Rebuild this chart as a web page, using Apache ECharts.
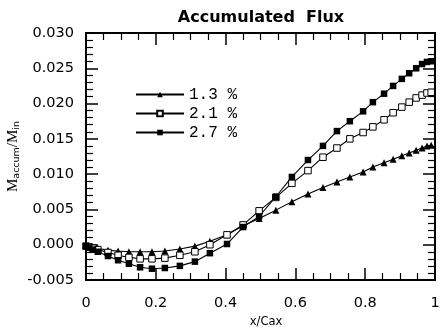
<!DOCTYPE html>
<html>
<head>
<meta charset="utf-8">
<script src="https://cdn.jsdelivr.net/npm/echarts@6/dist/echarts.min.js"></script>
<style>
  html, body { margin: 0; padding: 0; background: #fff; }
  #chart { width: 442px; height: 328px; }
</style>
</head>
<body>
<div id="chart"></div>
<script>
// x/Cax stations (shared by all three runs)
const xStations = [
  0.000, 0.009, 0.020, 0.034, 0.063, 0.092, 0.123, 0.155, 0.189, 0.226,
  0.269, 0.312, 0.355, 0.404, 0.450, 0.496, 0.544, 0.590, 0.636, 0.679,
  0.719, 0.756, 0.794, 0.822, 0.854, 0.880, 0.905, 0.926, 0.946, 0.963,
  0.977, 0.989
];

// M_accum / M_in for each blowing ratio
const flux13 = [
  -0.0001, -0.0002, -0.0004, -0.0005, -0.0008, -0.0009, -0.0010, -0.0010, -0.0010, -0.0009,
  -0.0006, -0.0002, 0.0005, 0.0014, 0.0027, 0.0037, 0.0049, 0.0061, 0.0072, 0.0081,
  0.0089, 0.0096, 0.0103, 0.0110, 0.0116, 0.0121, 0.0126, 0.0130, 0.0134, 0.0137,
  0.0140, 0.0141
];
const flux21 = [
  -0.0002, -0.0003, -0.0005, -0.0007, -0.0011, -0.0015, -0.0018, -0.0020, -0.0020, -0.0019,
  -0.0015, -0.0010, 0.0000, 0.0014, 0.0028, 0.0048, 0.0067, 0.0087, 0.0105, 0.0124,
  0.0137, 0.0150, 0.0159, 0.0167, 0.0177, 0.0187, 0.0195, 0.0202, 0.0208, 0.0212,
  0.0215, 0.0216
];
const flux27 = [
  -0.0002, -0.0004, -0.0007, -0.0010, -0.0016, -0.0022, -0.0027, -0.0032, -0.0034, -0.0033,
  -0.0030, -0.0024, -0.0012, 0.0001, 0.0025, 0.0040, 0.0068, 0.0096, 0.0120, 0.0140,
  0.0161, 0.0175, 0.0189, 0.0202, 0.0214, 0.0225, 0.0235, 0.0243, 0.0250, 0.0256,
  0.0259, 0.0260
];
const seriesNames = ['1.3 %', '2.1 %', '2.7 %'];

const xMin = 0, xMax = 1, xStep = 0.2;
const yMin = -0.005, yMax = 0.030, yStep = 0.005;

const zip = (ys) => xStations.map((x, i) => [x, ys[i]]);

const axisColor = '#000';
const sans = 'DejaVu Sans, Verdana, sans-serif';
const labelFont = { color: '#000', fontSize: 14.5, fontFamily: sans };

function frameAxis(extra) {
  return Object.assign({
    type: 'value',
    axisLine: { show: true, onZero: false, lineStyle: { color: axisColor, width: 2 } },
    axisTick: { show: true, inside: true, length: 12, lineStyle: { color: axisColor, width: 1.5 } },
    splitLine: { show: false },
  }, extra);
}

const chart = echarts.init(document.getElementById('chart'));

const lineBase = {
  type: 'line',
  symbolSize: 6.5,
  lineStyle: { color: '#000', width: 1.1 },
  emphasis: { disabled: true },
  animation: false,
};

chart.setOption({
  backgroundColor: '#fff',
  title: {
    text: 'Accumulated  Flux',
    left: 261,
    top: 10,
    padding: 0,
    textAlign: 'center',
    textStyle: { fontSize: 16, fontWeight: 'bold', color: '#000', fontFamily: sans },
  },
  legend: {
    orient: 'vertical',
    left: 130,
    top: 80,
    itemWidth: 48,
    itemHeight: 7,
    itemGap: 0,
    textStyle: { fontSize: 16, color: '#000', fontFamily: 'Liberation Mono, Courier New, monospace', lineHeight: 19 },
    data: seriesNames,
  },
  grid: { left: 86, right: 7, top: 33, bottom: 48, outerBoundsMode: 'none', containLabel: false },
  xAxis: [
    frameAxis({
      min: xMin, max: xMax, interval: xStep,
      minorTick: { show: true, splitNumber: 4, length: 7, lineStyle: { color: axisColor, width: 1.2 } },
      axisLabel: Object.assign({ margin: 16 }, labelFont),
      name: 'x/Cax',
      nameLocation: 'middle',
      nameGap: 36,
      nameTextStyle: { fontSize: 11.5, color: '#000', fontFamily: sans, padding: [0, 0, 0, 11] },
    }),
    frameAxis({
      position: 'top',
      min: xMin, max: xMax, interval: xStep,
      minorTick: { show: true, splitNumber: 4, length: 7, lineStyle: { color: axisColor, width: 1.2 } },
      axisLabel: { show: false },
    }),
  ],
  yAxis: [
    frameAxis({
      min: yMin, max: yMax, interval: yStep,
      minorTick: { show: true, splitNumber: 5, length: 7, lineStyle: { color: axisColor, width: 1.2 } },
      axisLabel: Object.assign({ margin: 12, formatter: (v) => v.toFixed(3) }, labelFont),
      name: '{m|M}{s|accum}{m|/M}{s|in}',
      nameLocation: 'middle',
      nameRotate: 90,
      nameGap: 64,
      nameMoveOverlap: false,
      nameTextStyle: {
        color: '#000',
        rich: {
          m: { fontSize: 15, fontFamily: 'Liberation Serif, Times New Roman, serif', color: '#000' },
          s: { fontSize: 9.5, fontFamily: sans, color: '#000', padding: [7, 0, 0, 0] },
        },
      },
    }),
    frameAxis({
      position: 'right',
      min: yMin, max: yMax, interval: yStep,
      minorTick: { show: true, splitNumber: 5, length: 7, lineStyle: { color: axisColor, width: 1.2 } },
      axisLabel: { show: false },
    }),
  ],
  series: [
    Object.assign({}, lineBase, {
      name: seriesNames[0],
      symbol: 'triangle',
      symbolSize: 7,
      itemStyle: { color: '#000' },
      data: zip(flux13),
    }),
    Object.assign({}, lineBase, {
      name: seriesNames[1],
      symbol: 'rect',
      itemStyle: { color: '#fff', borderColor: '#000', borderWidth: 1 },
      data: zip(flux21),
    }),
    Object.assign({}, lineBase, {
      name: seriesNames[2],
      symbol: 'rect',
      itemStyle: { color: '#000' },
      data: zip(flux27),
    }),
  ],
});
</script>
</body>
</html>
